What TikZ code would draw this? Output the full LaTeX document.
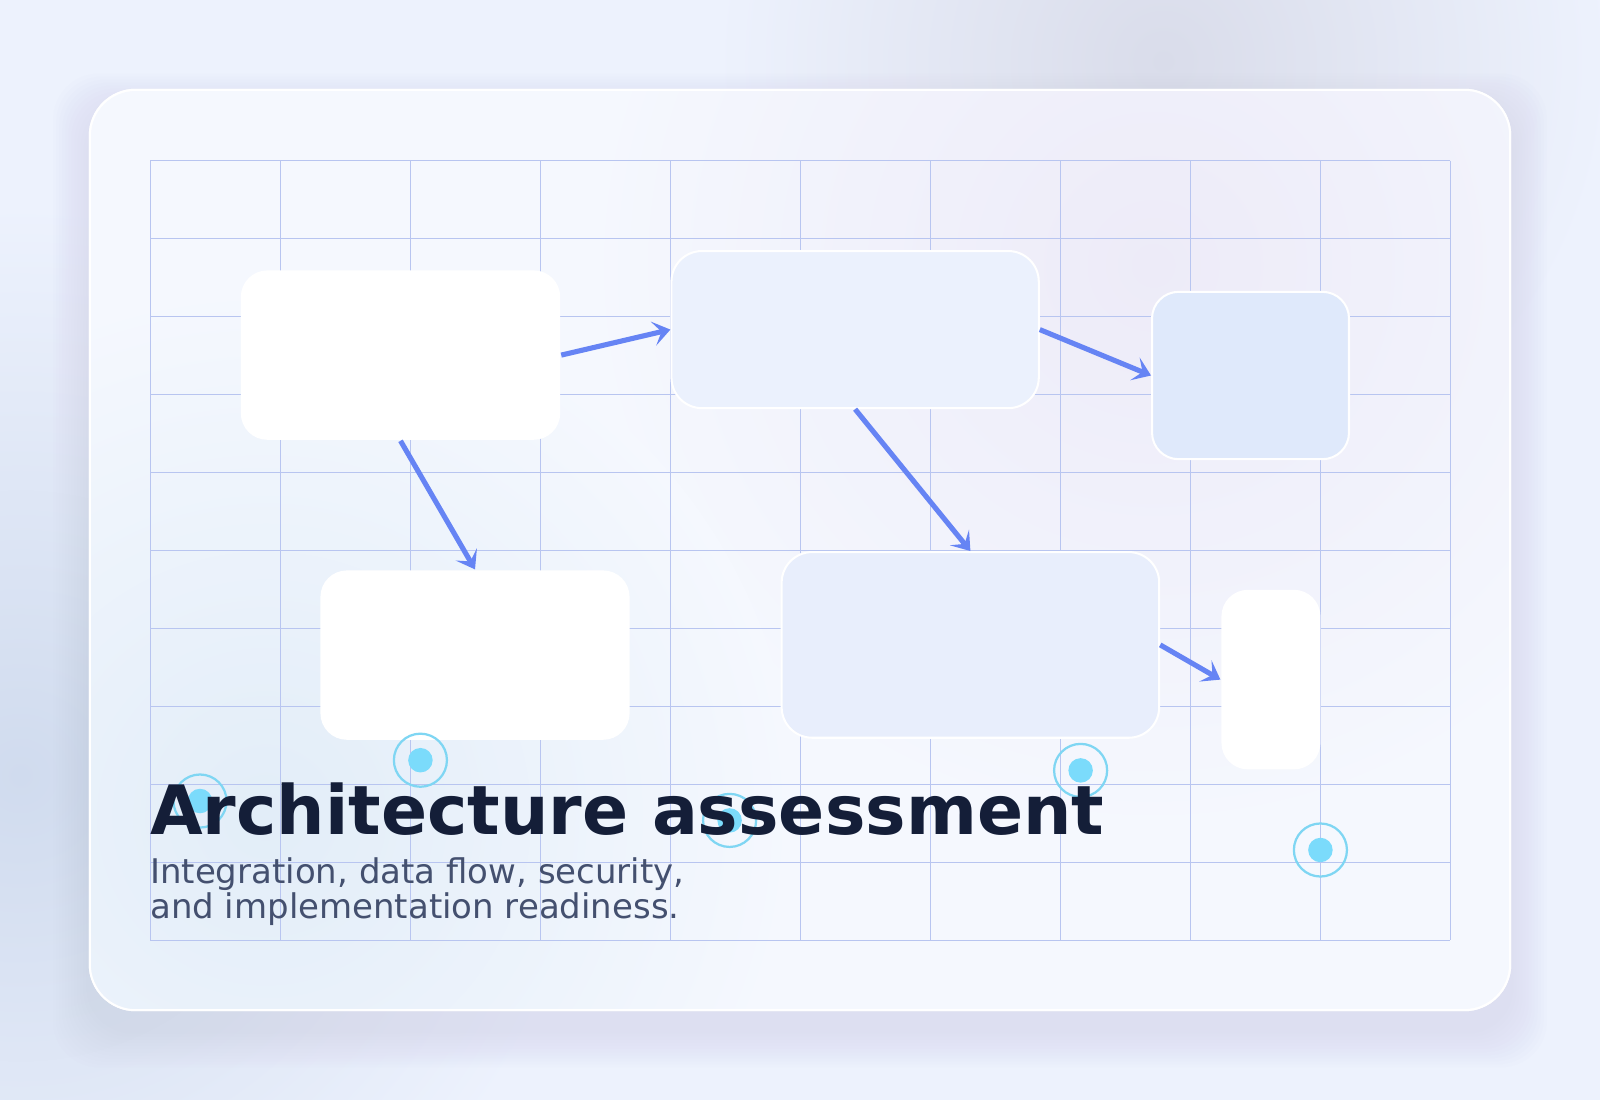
\documentclass[tikz,border=0pt]{standalone}
\usepackage{fontspec}
\setmainfont{DejaVu Sans}
\usepackage{xcolor}
\usetikzlibrary{arrows.meta,positioning,calc,backgrounds}

\definecolor{bgBlue}{HTML}{EDF2FD}
\definecolor{hazeTR}{HTML}{D9DCEA}
\definecolor{hazeBL}{HTML}{D0DBEE}
\definecolor{cardFill}{HTML}{F5F8FE}
\definecolor{cardTR}{HTML}{EDEBF8}
\definecolor{cardBL}{HTML}{E2EDF8}
\definecolor{gridBlue}{HTML}{B8C5F0}
\definecolor{paleBlue}{HTML}{EBF1FD}
\definecolor{skyBlue}{HTML}{DFE9FB}
\definecolor{mistBlue}{HTML}{E8EEFC}
\definecolor{flowBlue}{HTML}{6684F4}
\definecolor{ringCyan}{HTML}{7FD6F3}
\definecolor{dotCyan}{HTML}{7BDBFB}
\definecolor{inkNavy}{HTML}{141E38}
\definecolor{inkSlate}{HTML}{44506F}

\begin{document}
\begin{tikzpicture}[
    x=1pt, y=-1pt,
    card/.style={fill=cardFill, draw=white, line width=2pt, rounded corners=45pt},
    gridline/.style={draw=gridBlue, line width=1pt},
    box/.style={rectangle, rounded corners=26pt, inner sep=0pt, draw=white, line width=2pt},
    whitebox/.style={box, fill=white},
    palebox/.style={box, fill=paleBlue},
    skybox/.style={box, fill=skyBlue},
    mistbox/.style={box, fill=mistBlue},
    flow/.style={draw=flowBlue, line width=5pt, -{Stealth[length=17pt, width=24pt, inset=8pt]}},
    ring/.style={circle, draw=ringCyan, line width=2.2pt, fill=none, minimum size=52pt, inner sep=0pt},
    dot/.style={circle, fill=dotCyan, minimum size=24pt, inner sep=0pt},
    titletext/.style={font=\fontsize{66.7}{80}\selectfont\bfseries, text=inkNavy, anchor=base west, inner sep=0pt},
    subtext/.style={font=\fontsize{33.3}{34.5}\selectfont, text=inkSlate, anchor=base west, align=left, inner sep=0pt}
]
    \useasboundingbox (0,0) rectangle (1568,1078);

    % Background and haze
    \fill[bgBlue] (0,0) rectangle (1568,1078);
    \shade[inner color=hazeTR, outer color=bgBlue] (1140,60) circle (440);
    \shade[inner color=hazeBL, outer color=bgBlue] (20,760) circle (560);

    % Card shadow
    \foreach \i in {1,...,12}
        \fill[black!40!blue!30, opacity=0.018, rounded corners=45pt]
            (88-3*\i,108-3*\i) rectangle (1480+3*\i,1010+3*\i);

    % Card
    \path[card] (88,88) rectangle (1480,990);
    \begin{scope}
        \clip[rounded corners=45pt] (88,88) rectangle (1480,990);
        \shade[inner color=cardTR, outer color=cardFill] (1130,260) circle (560);
        \shade[inner color=cardBL, outer color=cardFill] (260,800) circle (520);
    \end{scope}
    \draw[white, line width=2pt, rounded corners=45pt] (88,88) rectangle (1480,990);

    % Grid
    \foreach \k in {0,...,10} {
        \draw[gridline] ({147.3+127.4*\k},157.3) -- ({147.3+127.4*\k},921.3);
        \draw[gridline] (147.3,{157.3+76.4*\k}) -- (1421.3,{157.3+76.4*\k});
    }

    % Blocks
    \node[whitebox, draw=none, minimum width=313pt, minimum height=166pt] (source) at (392.5,348) {};
    \node[palebox, minimum width=360pt, minimum height=154pt, rounded corners=30pt] (hub) at (838,323) {};
    \node[skybox, minimum width=193pt, minimum height=164pt] (store) at (1225.5,368) {};
    \node[whitebox, draw=none, minimum width=303pt, minimum height=166pt] (intake) at (465.5,642) {};
    \node[mistbox, minimum width=370pt, minimum height=182pt, rounded corners=30pt] (engine) at (951,632) {};
    \node[whitebox, draw=none, minimum width=97pt, minimum height=176pt] (edge) at (1245.5,666) {};

    % Flows
    \draw[flow] (source.east) -- (hub.west);
    \draw[flow] (hub.east) -- (store.west);
    \draw[flow] (source.south) -- (intake.north);
    \draw[flow] (hub.south) -- (engine.north);
    \draw[flow] (engine.east) -- (edge.west);

    % Markers
    \foreach \name/\pos in {m1/{(196,785)}, m2/{(412,745)}, m3/{(715,804)}, m4/{(1059,755)}, m5/{(1294,833)}} {
        \node[ring] (\name) at \pos {};
        \node[dot] at (\name) {};
    }

    % Caption
    \node[titletext] (title) at (147,818) {Architecture assessment};
    \node[subtext] (subtitle) at (147,900) {Integration, data flow, security,\\and implementation readiness.};

\end{tikzpicture}
\end{document}
